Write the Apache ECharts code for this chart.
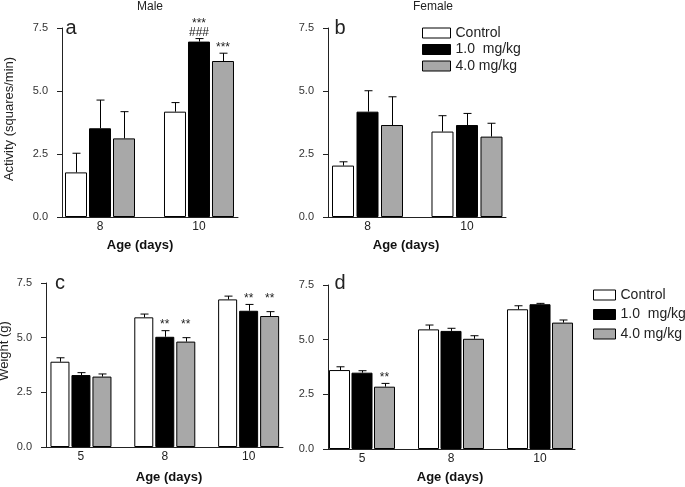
<!DOCTYPE html>
<html>
<head>
<meta charset="utf-8">
<script src="https://cdn.jsdelivr.net/npm/echarts@6/dist/echarts.min.js"></script>
<style>
  html, body { margin: 0; padding: 0; background: #fff; }
  #chart { width: 685px; height: 487px; }
</style>
</head>
<body>
<div id="chart"></div>
<script>
const groups = ['Control', '1.0  mg/kg', '4.0 mg/kg'];
const groupColors = ['#ffffff', '#000000', '#a8a8a8'];
const agesActivity = ['8', '10'];
const agesWeight = ['5', '8', '10'];

// activity (squares/min): mean and SEM, one row per group, one column per age
const maleActMean = [[1.77, 4.18], [3.52, 6.96], [3.12, 6.19]];
const maleActSem = [[0.76, 0.36], [1.12, 0.12], [1.06, 0.31]];
const femaleActMean = [[2.04, 3.39], [4.18, 3.65], [3.65, 3.19]];
const femaleActSem = [[0.15, 0.63], [0.83, 0.46], [1.12, 0.53]];

// weight (g)
const maleWtMean = [[3.90, 5.93, 6.75], [3.29, 5.04, 6.23], [3.22, 4.82, 5.99]];
const maleWtSem = [[0.18, 0.15, 0.15], [0.11, 0.28, 0.29], [0.12, 0.18, 0.20]];
const femaleWtMean = [[3.61, 5.47, 6.39], [3.49, 5.40, 6.62], [2.85, 5.04, 5.78]];
const femaleWtSem = [[0.15, 0.20, 0.16], [0.09, 0.12, 0.04], [0.15, 0.14, 0.12]];

// significance marks: [age index, group index, text, group whose error bar it sits on]
const maleActMarks = [[1, 1, '***\n###', 1], [1, 2, '***', 2]];
const femaleActMarks = [];
const maleWtMarks = [[1, 1, '**', 1], [1, 2, '**', 1], [2, 1, '**', 1], [2, 2, '**', 1]];
const femaleWtMarks = [[0, 2, '**', 2]];

const FONT = '"Liberation Sans", Arial, sans-serif';

const panels = [
  { mean: maleActMean, sem: maleActSem, ages: agesActivity, marks: maleActMarks,
    grid: { left: 62, top: 28, width: 176, height: 189 }, xMin: -0.384, xMax: 1.394, barW: 22, gap: 2 },
  { mean: femaleActMean, sem: femaleActSem, ages: agesActivity, marks: femaleActMarks,
    grid: { left: 328, top: 28, width: 178, height: 189 }, xMin: -0.397, xMax: 1.392, barW: 22, gap: 2.5 },
  { mean: maleWtMean, sem: maleWtSem, ages: agesWeight, marks: maleWtMarks,
    grid: { left: 46, top: 283, width: 237, height: 164 }, xMin: -0.417, xMax: 2.41, barW: 19, gap: 2 },
  { mean: femaleWtMean, sem: femaleWtSem, ages: agesWeight, marks: femaleWtMarks,
    grid: { left: 328, top: 285, width: 247, height: 164 }, xMin: -0.382, xMax: 2.393, barW: 21, gap: 1.5 }
];

const chart = echarts.init(document.getElementById('chart'), null, { renderer: 'canvas' });

const grids = [], xAxes = [], yAxes = [], series = [];

panels.forEach(function (p, pi) {
  grids.push(p.grid);
  xAxes.push({
    type: 'value', gridIndex: pi, min: p.xMin, max: p.xMax,
    axisLine: { show: true, onZero: false, lineStyle: { color: '#222', width: 1 } },
    axisTick: { show: false },
    splitLine: { show: false },
    axisLabel: {
      customValues: p.ages.map(function (a, i) { return i; }),
      formatter: function (v) { return p.ages[v]; },
      margin: 4, fontSize: 12, color: '#222', fontFamily: FONT
    }
  });
  yAxes.push({
    type: 'value', gridIndex: pi, min: 0, max: 7.5, interval: 2.5,
    axisLine: { show: true, onZero: false, lineStyle: { color: '#222', width: 1 } },
    axisTick: { show: true, length: 5, lineStyle: { color: '#222' } },
    splitLine: { show: false },
    axisLabel: {
      formatter: function (v) { return v.toFixed(1); },
      margin: 14, fontSize: 11, color: '#333', fontFamily: FONT
    }
  });

  groups.forEach(function (g, gi) {
    series.push({
      name: g, type: 'bar', xAxisIndex: pi, yAxisIndex: pi,
      barWidth: p.barW, barGap: (p.gap / p.barW * 100) + '%',
      data: p.ages.map(function (a, i) { return [i, p.mean[gi][i]]; }),
      itemStyle: { color: groupColors[gi], borderColor: '#000', borderWidth: 1 },
      animation: false, silent: true
    });
  });

  // error bars (upper whisker only)
  const errItems = [];
  groups.forEach(function (g, gi) {
    p.ages.forEach(function (a, i) {
      errItems.push({ gi: gi, i: i, value: [i, p.mean[gi][i], p.mean[gi][i] + p.sem[gi][i]] });
    });
  });
  series.push({
    type: 'custom', xAxisIndex: pi, yAxisIndex: pi, z: 5, animation: false, silent: true,
    data: errItems.map(function (e) { return e.value; }),
    renderItem: function (params, api) {
      const e = errItems[params.dataIndex];
      const base = api.coord([e.i, api.value(1)]);
      const top = api.coord([e.i, api.value(2)]);
      const cx = Math.round(base[0] + (e.gi - 1) * (p.barW + p.gap)) + 0.5;
      const st = { stroke: '#000', lineWidth: 1 };
      return {
        type: 'group',
        children: [
          { type: 'line', shape: { x1: cx, y1: base[1], x2: cx, y2: top[1] }, style: st },
          { type: 'line', shape: { x1: cx - 4, y1: top[1], x2: cx + 4, y2: top[1] }, style: st }
        ]
      };
    }
  });

  // significance marks
  if (p.marks.length) {
    series.push({
      type: 'custom', xAxisIndex: pi, yAxisIndex: pi, z: 6, animation: false, silent: true,
      data: p.marks.map(function (m) { return [m[0], p.mean[m[3]][m[0]] + p.sem[m[3]][m[0]]]; }),
      renderItem: function (params, api) {
        const m = p.marks[params.dataIndex];
        const pt = api.coord([api.value(0), api.value(1)]);
        const cx = pt[0] + (m[1] - 1) * (p.barW + p.gap);
        return {
          type: 'text',
          style: {
            x: cx, y: pt[1] - 1, text: m[2], fill: '#222',
            font: '12px ' + FONT, lineHeight: 9,
            textAlign: 'center', textVerticalAlign: 'bottom'
          }
        };
      }
    });
  }
});

function label(text, x, y, size, extra) {
  return Object.assign({
    type: 'text', x: x, y: y,
    style: { text: text, fill: '#222', font: size + 'px ' + FONT, textAlign: 'center', textVerticalAlign: 'middle' }
  }, extra || {});
}
function boldLabel(text, x, y) {
  return {
    type: 'text', x: x, y: y,
    style: { text: text, fill: '#111', font: 'bold 13px ' + FONT, textAlign: 'center', textVerticalAlign: 'middle' }
  };
}

const legendBase = {
  data: groups, orient: 'vertical', icon: 'rect', selectedMode: false, padding: 0,
  itemStyle: { borderColor: '#000', borderWidth: 1 },
  textStyle: { fontSize: 14, color: '#222', fontFamily: FONT, lineHeight: 14 }
};

chart.setOption({
  backgroundColor: '#fff',
  animation: false,
  grid: grids,
  xAxis: xAxes,
  yAxis: yAxes,
  legend: [
    Object.assign({}, legendBase, { left: 422, top: 26, itemWidth: 28, itemHeight: 10, itemGap: 2.5 }),
    Object.assign({}, legendBase, { left: 593, top: 288, itemWidth: 22, itemHeight: 10, itemGap: 5.5 })
  ],
  graphic: [
    label('Male', 150, 7, 12),
    label('Female', 433, 7, 12),
    label('a', 71, 28, 20),
    label('b', 340, 28, 20),
    label('c', 60, 283, 20),
    label('d', 340, 283, 20),
    label('Activity (squares/min)', 9, 119, 13, { rotation: Math.PI / 2 }),
    label('Weight (g)', 4, 351, 13, { rotation: Math.PI / 2 }),
    boldLabel('Age (days)', 140, 245),
    boldLabel('Age (days)', 406, 245),
    boldLabel('Age (days)', 169, 477),
    boldLabel('Age (days)', 450, 477)
  ],
  series: series
});
</script>
</body>
</html>
